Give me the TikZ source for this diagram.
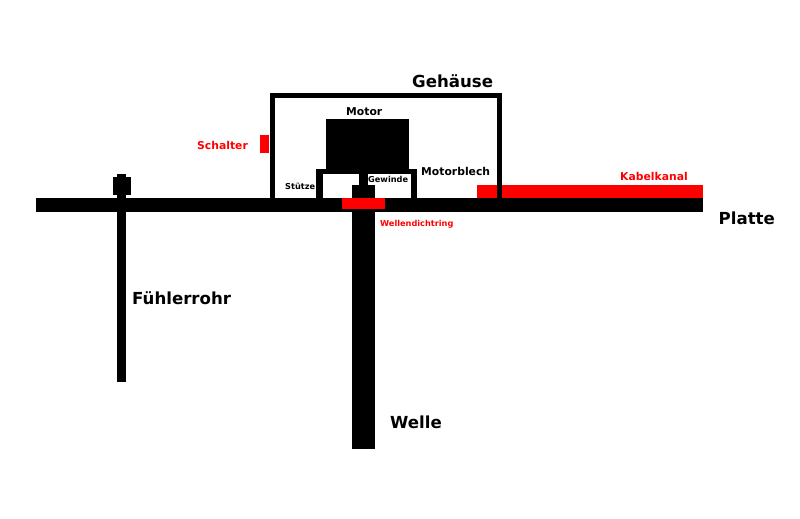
\documentclass[tikz,border=0pt]{standalone}
\usepackage{fontspec}
\setmainfont{DejaVu Sans}
\tikzset{
  bigtext/.style={anchor=base west, inner sep=0pt, font=\bfseries\fontsize{16.6}{18}\selectfont},
  midtext/.style={anchor=base west, inner sep=0pt, font=\bfseries\fontsize{10.8}{12}\selectfont},
  smalltext/.style={anchor=base west, inner sep=0pt, font=\bfseries\fontsize{8.2}{9}\selectfont},
  redtext/.style={text=red}
}
\begin{document}
\begin{tikzpicture}[x=1pt, y=-1pt]
	\useasboundingbox (0, 0) rectangle (800, 519);
	%%%%% START %%%%%
	% Kabelkanal, Schalter
	\fill[red] (477.3, 185) rectangle (702.7, 197.7);
	\fill[red] (260, 135) rectangle (269.3, 153.3);

	% Gehaeuse
	\fill[black] (270, 92.7) rectangle (501.7, 197.7);
	\fill[white] (275, 97.7) rectangle (496.5, 197.7);
	\fill[red] (477.3, 185) rectangle (496.5, 197.7);

	% Motor, Motorblech
	\fill[black] (326, 119.3) rectangle (409.3, 170);
	\fill[black] (316, 169.3) rectangle (416.7, 197.7);
	\fill[white] (322.7, 174) rectangle (411, 197.7);

	% Welle, Gewinde
	\fill[black] (351.5, 185) rectangle (375.2, 449);
	\fill[black] (359.3, 174) rectangle (368, 185);

	% Platte, Wellendichtring
	\fill[black] (36, 197.7) rectangle (702.7, 211.7);
	\fill[red] (341.7, 197.7) rectangle (385, 209);

	% Fuehlerrohr
	\fill[black] (117, 174) rectangle (126, 382);
	\fill[black] (112.7, 177.3) rectangle (130.7, 195);

	\node[bigtext] (gehaeuse) at (412, 87.5) {Gehäuse};
	\node[bigtext] (platte) at (718.5, 224.7) {Platte};
	\node[bigtext] (fuehlerrohr) at (132, 304) {Fühlerrohr};
	\node[bigtext] (welle) at (390, 428) {Welle};
	\node[midtext] (motorblech) at (421, 175) {Motorblech};
	\node[midtext] (motor) at (346, 115) {Motor};
	\node[midtext, redtext] (schalter) at (197, 149) {Schalter};
	\node[midtext, redtext] (kabelkanal) at (620, 180) {Kabelkanal};
	\node[smalltext] (stuetze) at (285, 189) {Stütze};
	\node[smalltext] (gewinde) at (368, 182.7) {Gewinde};
	\node[smalltext, redtext] (dichtring) at (380, 226) {Wellendichtring};
	%%%%% END %%%%%
\end{tikzpicture}
\end{document}
